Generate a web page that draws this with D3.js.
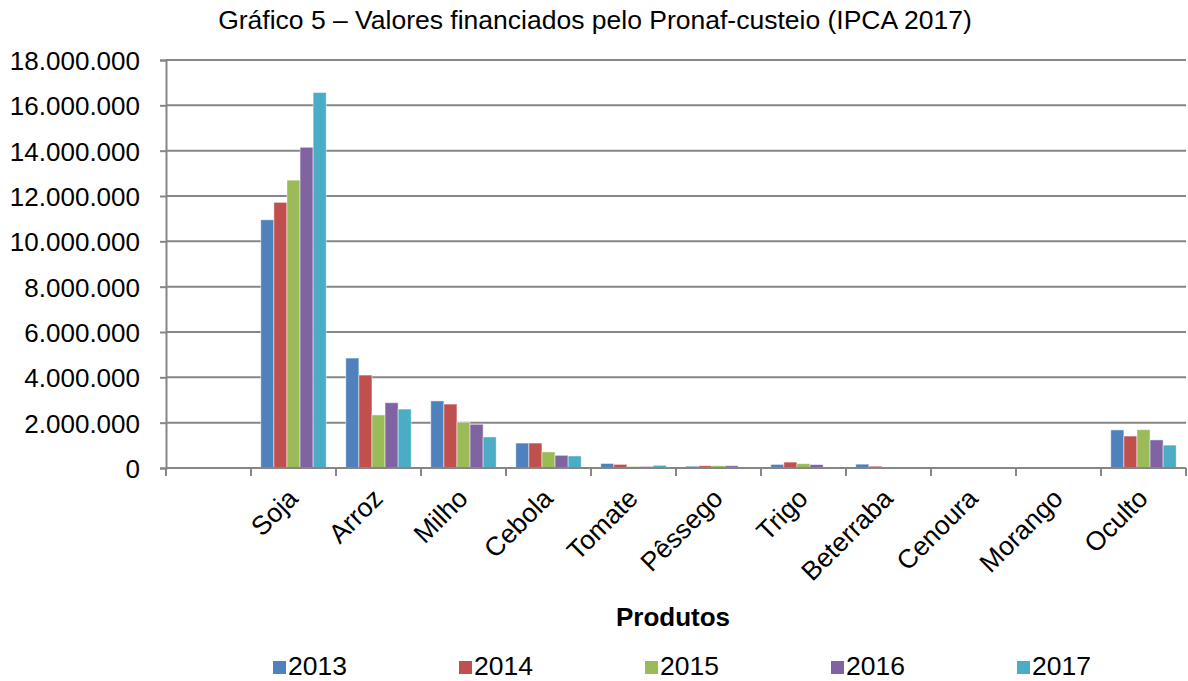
<!DOCTYPE html>
<html lang="pt">
<head>
<meta charset="UTF-8">
<title>Gráfico 5</title>
<script src="https://d3js.org/d3.v7.min.js"></script>
<style>
  body { margin: 0; background: #fff; }
  text { font-family: "Liberation Sans", Arial, sans-serif; fill: #000; }
</style>
</head>
<body>
<div id="chart"></div>
<script>
// dados
var categorias = ["", "Soja", "Arroz", "Milho", "Cebola", "Tomate", "Pêssego", "Trigo", "Beterraba", "Cenoura", "Morango", "Oculto"];
var anos = ["2013", "2014", "2015", "2016", "2017"];
var v2013 = [0, 10950000, 4850000, 2960000, 1100000, 200000, 80000, 160000, 170000, 20000, 20000, 1680000];
var v2014 = [0, 11720000, 4100000, 2820000, 1100000, 160000, 100000, 260000, 80000, 0, 0, 1410000];
var v2015 = [0, 12700000, 2340000, 2020000, 710000, 70000, 100000, 190000, 0, 0, 10000, 1690000];
var v2016 = [0, 14150000, 2880000, 1930000, 560000, 70000, 100000, 150000, 0, 0, 0, 1240000];
var v2017 = [0, 16570000, 2600000, 1370000, 530000, 120000, 0, 0, 0, 0, 0, 1010000];
var yTicks = [0, 2000000, 4000000, 6000000, 8000000, 10000000, 12000000, 14000000, 16000000, 18000000];
var cores = ["#4F81BD", "#C0504D", "#9BBB59", "#8064A2", "#4BACC6"];

var series = [v2013, v2014, v2015, v2016, v2017];

var width = 1188, height = 681;
var mLeft = 166, mRight = 1186, mTop = 60, mBottom = 468;

var svg = d3.select("#chart").append("svg")
    .attr("width", width)
    .attr("height", height);

var x0 = d3.scaleBand().domain(categorias).range([mLeft, mRight]).padding(0);
var bw = x0.bandwidth();
var x1 = d3.scaleBand().domain(anos)
    .range([bw * 0.75 / 6.5, bw - bw * 0.75 / 6.5]).padding(0);
var y = d3.scaleLinear().domain([0, 18000000]).range([mBottom, mTop]);
var cor = d3.scaleOrdinal().domain(anos).range(cores);

var fmt = function(d) { return d3.format(",")(d).replace(/,/g, "."); };

// título
svg.append("text")
    .attr("x", 595).attr("y", 29)
    .attr("text-anchor", "middle")
    .style("font-size", "26.5px")
    .text("Gráfico 5 – Valores financiados pelo Pronaf-custeio (IPCA 2017)");

// grade horizontal
svg.append("g").selectAll("line")
    .data(yTicks.slice(1))
    .enter().append("line")
    .attr("x1", mLeft).attr("x2", mRight)
    .attr("y1", function(d) { return y(d); })
    .attr("y2", function(d) { return y(d); })
    .attr("stroke", "#868686")
    .attr("stroke-width", 2);

// eixo y
var yAxis = svg.append("g")
    .attr("transform", "translate(" + mLeft + ",0)")
    .call(d3.axisLeft(y).tickValues(yTicks).tickFormat(fmt).tickSize(6).tickPadding(20));
yAxis.select(".domain").attr("stroke", "#868686").attr("stroke-width", 2);
yAxis.selectAll(".tick line").attr("stroke", "#868686").attr("stroke-width", 2);
yAxis.selectAll(".tick text")
    .style("font-size", "26px")
    .style("font-family", "'Liberation Sans', Arial, sans-serif")
    .attr("fill", "#000")
    .attr("dy", "0.36em");

// barras
var dados = categorias.map(function(c, i) {
    return { cat: c, vals: anos.map(function(a, j) { return { ano: a, v: series[j][i] }; }) };
});

var grupos = svg.append("g").selectAll("g")
    .data(dados)
    .enter().append("g")
    .attr("transform", function(d) { return "translate(" + x0(d.cat) + ",0)"; });

grupos.selectAll("rect")
    .data(function(d) { return d.vals.filter(function(e) { return e.v > 0; }); })
    .enter().append("rect")
    .attr("x", function(d) { return x1(d.ano); })
    .attr("width", x1.bandwidth())
    .attr("y", function(d) { return y(d.v); })
    .attr("height", function(d) { return y(0) - y(d.v); })
    .attr("fill", function(d) { return cor(d.ano); })
    .attr("stroke", "#ffffff")
    .attr("stroke-opacity", 0.6)
    .attr("stroke-width", 0.8);

// eixo x (linha base e marcas entre categorias)
svg.append("line")
    .attr("x1", mLeft).attr("x2", mRight)
    .attr("y1", mBottom).attr("y2", mBottom)
    .attr("stroke", "#868686").attr("stroke-width", 2);

var limites = categorias.map(function(c) { return x0(c); }).concat([mRight]);
svg.append("g").selectAll("line")
    .data(limites)
    .enter().append("line")
    .attr("x1", function(d) { return d; }).attr("x2", function(d) { return d; })
    .attr("y1", mBottom).attr("y2", mBottom + 8)
    .attr("stroke", "#868686").attr("stroke-width", 2);

svg.append("g").selectAll("text")
    .data(categorias.filter(function(c) { return c !== ""; }))
    .enter().append("text")
    .attr("text-anchor", "end")
    .attr("transform", function(d) {
        return "translate(" + (x0(d) + bw / 2 + 6) + "," + (mBottom + 32) + ") rotate(-45)";
    })
    .style("font-size", "26.5px")
    .text(function(d) { return d; });

// título do eixo x
svg.append("text")
    .attr("x", 673).attr("y", 626)
    .attr("text-anchor", "middle")
    .style("font-size", "26px")
    .style("font-weight", "bold")
    .text("Produtos");

// legenda
var leg = svg.append("g").selectAll("g")
    .data(anos)
    .enter().append("g")
    .attr("transform", function(d, i) { return "translate(" + (273 + i * 186) + ",661)"; });
leg.append("rect")
    .attr("width", 13).attr("height", 13)
    .attr("fill", function(d) { return cor(d); });
leg.append("text")
    .attr("x", 15).attr("y", 14)
    .style("font-size", "26.5px")
    .text(function(d) { return d; });
</script>
</body>
</html>
